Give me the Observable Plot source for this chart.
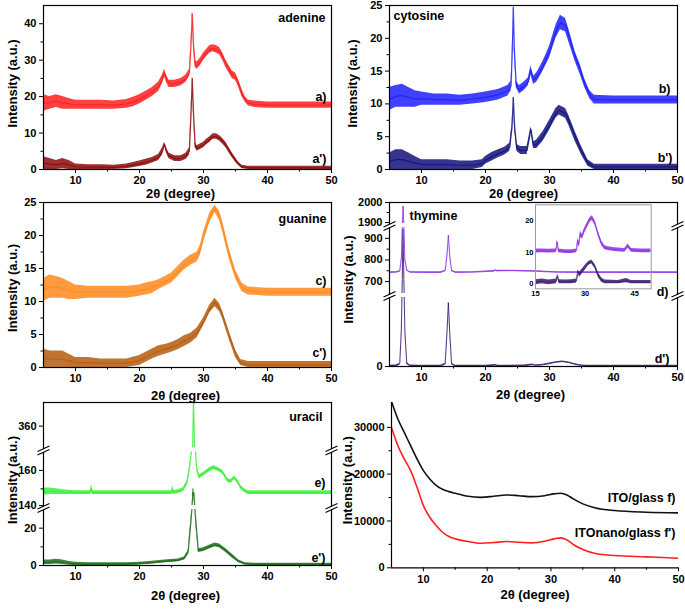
<!DOCTYPE html>
<html><head><meta charset="utf-8">
<script src="https://cdn.jsdelivr.net/npm/d3@7"></script>
<script src="https://cdn.jsdelivr.net/npm/@observablehq/plot@0.6"></script>
<style>
body{margin:0;background:#fff;}
#chart{position:relative;width:685px;height:610px;overflow:hidden;background:#fff;}
#chart svg{position:absolute;background:transparent;}
</style></head><body><div id="chart"></div><script>
// ---------- shared axis values ----------
const X_DOMAIN = [5, 50];
const THETA_TICKS = [10, 20, 30, 40, 50];
const THETA_MINOR = [15, 25, 35, 45];
const X_TITLE = "2θ (degree)";
const Y_TITLE = "Intensity (a.u.)";

// ---------- series: [2θ, lower edge of noise band, upper edge] ----------
const adenineA = [[5,16,20.5],[6,16.5,20],[7,17,20.5],[8,16.5,20],[9,16.5,19.5],[10,16.5,19],[12,16.5,19],[14,16.5,19],[16,16.5,18.8],[18,16.8,19.2],[19,17.2,19.8],[20,18,20.5],[21,19,21.5],[22,20,22.5],[23,21.5,24],[23.6,23.5,26],[23.9,25.5,27.5],[24.2,24,26],[24.6,22.5,24.5],[25.5,22.5,24.5],[26.5,23,25],[27.3,24,26],[27.8,25.5,27.5],[28.05,33,35],[28.25,42,43.5],[28.45,33,35],[28.7,28,30],[29,27.5,29.5],[29.5,28.5,30.5],[30,30,32],[30.5,31,33],[31,32,34],[31.5,32.3,34.2],[32,32,34],[32.5,31.5,33.5],[33,30,32],[33.5,28,30],[34,26.5,28.5],[34.5,25,27],[35,24.5,26.5],[35.4,23,25],[36,20,22],[36.5,18.5,20],[37,17.5,19],[38,17,18.8],[40,16.8,18.5],[45,16.8,18.5],[50,16.8,18.5]];
const adenineB = [[5,0,3.5],[6,0,3],[7,0,2.5],[8,0.2,3],[9,0,2.5],[10,0,1.5],[12,0,1.3],[14,0,1.3],[16,0,1.2],[18,0.2,1.5],[20,0.8,2.3],[21,1.2,2.8],[22,1.8,3.3],[23,2.5,4.2],[23.6,4,6],[23.9,6.5,7.5],[24.2,4.5,6],[24.6,3,4.5],[25.5,2.2,3.8],[26.5,2.2,3.8],[27.3,2.8,4.5],[27.8,4,6],[28.05,14,16],[28.25,24.5,25.5],[28.45,14,16],[28.7,6,7.5],[29,5,6.5],[29.5,5.5,7],[30,6,7.5],[30.5,6.8,8.3],[31,7.5,9],[31.5,8.3,9.8],[32,8.3,9.8],[32.5,7.8,9.3],[33,7,8.5],[33.5,6,7.5],[34,4.5,6],[34.5,3.2,4.5],[35,2,3.2],[35.5,1,2],[36,0.3,1.2],[37,0,0.9],[40,0,0.9],[45,0,0.9],[50,0,0.9]];

const cytosineA = [[5,9,12.5],[6,9.5,12.8],[7,9.5,13],[8,9.5,12.5],[9,9.5,12],[10,9.8,11.8],[12,9.8,11.5],[14,9.8,11.5],[16,9.8,11.3],[18,10,11.5],[20,10.2,11.8],[22,10.6,12.2],[23.5,11.2,12.8],[24,12,13.5],[24.2,18,19],[24.35,24.5,25],[24.5,18,19],[24.8,12.5,13.5],[25.3,11.5,12.8],[26,12,13.3],[26.7,12.8,14],[27.1,14.5,15.8],[27.5,13,14.2],[28,13.3,14.7],[29,15,16.5],[30,17,18.8],[31,20,22],[31.7,21.3,23.5],[32.5,21,23],[33,19.5,21.5],[34,16.5,18],[34.8,14.5,16],[35.5,12.5,13.8],[36.3,10.8,12],[37,10,11.3],[40,10,11.2],[45,10,11.2],[50,10,11.2]];
const cytosineB = [[5,0,2.5],[6,0,3],[7,0,3],[8,0,2.5],[9,0,2],[10,0,1.5],[12,0,1.5],[14,0,1.5],[16,0,1.3],[18,0,1.3],[19.5,0.3,1.5],[20,0.8,2],[21,1.3,2.6],[22,1.8,3],[23,2.2,3.4],[23.8,2.8,4],[24.15,6,7],[24.35,10.8,11.2],[24.55,6,7],[24.9,2.8,3.8],[25.5,2.3,3.5],[26.5,2.3,3.5],[27.1,5.8,6.5],[27.5,3.2,4.2],[28,3.2,4.5],[29,4.3,5.8],[30,6,7.5],[31,7.8,9.3],[31.5,8.3,9.8],[32.5,7.8,9.3],[33,6.8,8.3],[34,4.3,5.8],[35,2.2,3.5],[36,0.5,1.5],[37,0,0.8],[40,0,0.8],[45,0,0.8],[50,0,0.8]];

const guanineA = [[5,10,13.5],[6,10.5,14],[7,10.5,13.8],[8,10.5,13.5],[9,10.3,13],[10,10.3,12.5],[12,10.5,12.3],[14,10.5,12.3],[16,10.5,12.3],[18,10.5,12.3],[20,10.8,12.5],[21,11,12.8],[22,11.2,13],[23,11.8,13.3],[24,12.3,13.8],[25,12.8,14.3],[26,13.8,15.3],[27,14.8,16.3],[28,15.5,17],[29,16,17.5],[29.5,17,18.5],[30,19,20.5],[31,22,23.5],[31.8,23.5,24.6],[32.5,22.3,23.7],[33,20.5,22],[34,16.5,18],[35,13.5,14.8],[36,11.5,12.8],[37,11,12.2],[40,10.8,12],[45,10.8,12],[50,10.8,12]];
const guanineB = [[5,0,2.8],[6,0,2.5],[7,0,2.5],[8,0,2.5],[9,0,2],[10,0,1.5],[12,0,1.5],[14,0,1.3],[16,0,1.3],[18,0,1.3],[20,0.3,1.8],[21,0.8,2.3],[22,1.3,2.8],[23,1.7,3.3],[24,2,3.5],[25,2.3,3.8],[26,2.7,4.2],[27,3.2,4.8],[28,3.7,5.2],[29,4.5,6],[30,6.3,7.5],[31,8.3,9.5],[31.8,9.2,10.5],[32.5,8.5,9.7],[33,7.3,8.5],[34,4.3,5.5],[35,1.5,2.7],[35.8,0.3,1.2],[37,0,0.9],[40,0,0.9],[45,0,0.9],[50,0,0.9]];

const thymineA = [[5,740,745],[6,741,746],[6.6,745,750],[6.85,800,810],[7.0,1300,1320],[7.12,1980,1985],[7.25,1300,1320],[7.4,800,810],[7.7,750,755],[8.2,741,746],[10,740,745],[13,740,745],[13.7,748,752],[14.0,820,830],[14.2,912,918],[14.4,820,830],[14.7,748,752],[15.3,740,745],[18,741,746],[20,744,749],[21.3,746,751],[21.5,749,755],[21.7,747,752],[24,748,753],[28,745,750],[31,741,746],[35,740,745],[40,740,745],[50,740,745]];
const thymineB = [[5,0,5],[6,0,6],[6.6,8,14],[6.85,150,160],[7.0,700,720],[7.1,940,945],[7.25,700,720],[7.4,150,160],[7.7,10,18],[8.2,0,6],[10,0,5],[13,0,5],[13.7,8,14],[14.0,150,160],[14.2,275,280],[14.4,150,160],[14.7,8,14],[15.3,0,5],[20,0,5],[21.5,3,9],[22,0,5],[26,1,6],[27.4,5,11],[27.8,2,7],[29,5,10],[30,10,15],[31,16,21],[32,19,24],[33,15,20],[34,7,12],[35,2,7],[36,0,5],[50,0,5]];
const thymineInsetA = [[15,9.7,11],[17,9.8,11],[19,9.7,10.9],[21.2,9.8,11],[21.6,12.5,14],[22,9.8,11],[24,9.6,10.8],[26,9.6,10.8],[27.4,9.8,11],[27.8,13,14.5],[28.1,11.5,13],[28.6,15,16.8],[29.1,14,15.5],[29.6,15.5,17],[30.5,17.5,19],[31.5,19.5,21],[32.2,20,21.5],[33,18.5,20],[34,15,16.5],[35,12,13.5],[36,10.8,12],[37,10.5,11.7],[39,10.2,11.4],[42,10,11.2],[43,11.3,12.6],[44,10,11.2],[47,9.8,11],[50,9.8,11]];
const thymineInsetB = [[15,-0.3,1.3],[17,0,1.5],[19,-0.3,1.2],[21.3,0,1.5],[21.7,2,3],[22.1,0,1.3],[24,0,1.2],[26,0,1.3],[27.4,0.2,1.5],[27.9,3.5,4.5],[28.3,2,3.5],[29,3,4.5],[30,4.3,5.8],[31,5.8,7],[32,6.3,7.5],[33,4.8,6.2],[34,2,3.5],[35,0.5,1.8],[36,0,1.2],[40,0,1],[42.5,0.3,1.7],[44,0,1],[50,0,1]];

const uracilA = [[5,146.5,150.5],[6,147,150.5],[7,147,150],[8,147,149.5],[10,147,149],[12.3,147,149],[12.5,148,152.5],[12.7,147,149],[15,147,149],[20,147,149],[25,147,149],[25.2,147.5,151.5],[25.4,147,149],[26,147.5,149.5],[26.8,148.5,150.5],[27.4,152,154],[27.8,160,162],[28.1,185,190],[28.3,340,345],[28.45,372,376],[28.6,340,345],[28.75,185,190],[28.95,160,162],[29.3,155.5,157.5],[30,157,159],[31,159.5,161.5],[31.6,160.5,162.5],[32.3,159.5,161.5],[33,158,160],[33.8,153.5,155.5],[34.3,153,155],[34.8,155,157],[35.3,153,155],[35.8,150,152],[36.4,148,150],[37,147,149],[40,147,149],[45,147,149],[50,147,149]];
const uracilB = [[5,0.5,3],[6,0.5,3],[7,0.8,3.3],[8,0.5,3],[9,0.2,2.2],[10,0,1.8],[12,0,1.5],[15,0,1.5],[18,0,1.5],[20,0.3,1.8],[22,0.8,2.3],[24,1.5,3],[26,2,3.5],[27,3,4.5],[27.6,6,8],[28,20,24],[28.2,60,65],[28.35,146,150],[28.5,146,150],[28.65,60,65],[28.85,20,24],[29.2,7,9],[30,7.5,9.5],[31,9,11],[31.8,10,12],[32.5,9.5,11.5],[33.5,7,9],[34.5,4,6],[35.5,1.5,3],[36.5,0.3,1.5],[38,0,1.2],[45,0,1.2],[50,0,1.2]];

// ITO substrates: [2θ, intensity]
const itoGlass = [[5,35500],[6,31770],[7,28900],[8,26080],[9,23240],[10,20750],[11,18980],[12,17620],[13,16760],[14,16270],[15,15910],[17,15270],[19,15050],[21,15270],[23,15560],[25,15400],[27,15200],[29,15400],[30.5,15780],[31.5,15910],[32.5,15560],[33.5,14710],[35,13650],[37,12790],[40,12220],[45,11860],[50,11730]];
const itoNanoGlass = [[5,29980],[6,26080],[7,23240],[8,20750],[9,17190],[10,13280],[11,10790],[12,9020],[13,7590],[14,6670],[15,6180],[17,5610],[19,5250],[21,5390],[23,5610],[25,5460],[27,5320],[29,5680],[30.5,6180],[31.5,6400],[32.5,5960],[33.5,4970],[35,3900],[37,3050],[40,2620],[45,2340],[50,2050]];

// ---------- broken y axes ----------
const thymineTicks = [0, 700, 800, 900, 1900, 2000];
const thymineSegments = [0, 300, 645, 950, 1895, 2000];   // shown pieces: 0–300, 645–950, 1895–2000
const thymineGaps = [[300, 645], [950, 1895]];
const uracilTicks = [0, 20, 140, 160, 360];
const uracilSegments = [0, 30, 141, 170, 348, 373];
const uracilGaps = [[30, 141], [170, 348]];

// ---------- helpers ----------
const FONT = "'Liberation Sans', Arial, Helvetica, sans-serif";
const chart = document.getElementById("chart");
const breakGap = {draw(c) { c.moveTo(-6, 1.5); c.lineTo(6, -4); c.lineTo(6, -0.5); c.lineTo(-6, 5); c.closePath(); }};
const breakLines = {draw(c) { c.moveTo(-6, 1.5); c.lineTo(6, -4); c.moveTo(-6, 5); c.lineTo(6, -0.5); }};
const ident = d3.scaleIdentity();

function bandMarks(data, color, brk, opts = {}) {
  const op = opts.opacity ?? 0.85;
  return [
    Plot.areaY(data, {x: d => d[0], y1: d => brk(d[1]), y2: d => brk(d[2]), fill: color, fillOpacity: op, clip: true}),
    Plot.line(data, {x: d => d[0], y: d => brk((d[1] + d[2]) / 2), stroke: color, strokeOpacity: op, strokeWidth: opts.sw ?? 1.2, strokeLinejoin: "round", clip: true})
  ];
}

function makePanel(p) {
  const [left, top, width, height] = p.box;
  const [mT, mR, mB, mL] = p.margins;
  const brk = p.brk || ident;
  const yFmt = v => String(Math.round(brk.invert(v)));
  const marks = [];
  for (const s of p.series) {
    if (s.line) marks.push(Plot.line(s.data, {x: d => d[0], y: d => d[1], stroke: s.color, strokeWidth: 1.6, curve: "monotone-x", clip: true}));
    else marks.push(...bandMarks(s.data, s.color, brk, s));
  }
  const gaps = p.gaps || [];
  if (gaps.length) marks.push(Plot.rect(gaps, {x1: () => X_DOMAIN[0], x2: () => X_DOMAIN[1], y1: d => brk(d[0]), y2: d => brk(d[1]), fill: "white"}));
  if (p.openFrame) {
    marks.push(Plot.ruleX([X_DOMAIN[0]], {stroke: "black", strokeWidth: 1.2}));
    marks.push(Plot.ruleY([p.yDomain[0]], {stroke: "black", strokeWidth: 1.2}));
  } else {
    marks.push(Plot.frame({stroke: "black", strokeWidth: 1.2}));
  }
  marks.push(
    Plot.axisX({ticks: THETA_TICKS, tickSize: 4, tickPadding: 3, tickFormat: d => String(d), label: null}),
    Plot.axisX({ticks: THETA_MINOR, tickSize: 2.5, tickFormat: () => "", label: null}),
    Plot.axisY({ticks: p.yTicks.map(brk), tickSize: 4, tickPadding: 3, tickFormat: yFmt, label: null})
  );
  if (p.yMinor && p.yMinor.length) marks.push(Plot.axisY({ticks: p.yMinor.map(brk), tickSize: 2.5, tickFormat: () => "", label: null}));
  if (gaps.length) {
    const br = gaps.flatMap(g => X_DOMAIN.map(x => ({x, y: brk((g[0] + g[1]) / 2)})));
    marks.push(Plot.dot(br, {x: "x", y: "y", symbol: breakGap, r: 5, fill: "white", stroke: "none"}));
    marks.push(Plot.dot(br, {x: "x", y: "y", symbol: breakLines, r: 5, fill: "none", stroke: "black", strokeWidth: 1.1}));
  }
  marks.push(Plot.text([X_TITLE], {text: d => d, frameAnchor: "bottom", dx: p.xl[0], dy: p.xl[1], lineAnchor: "middle", textAnchor: "middle", fontSize: 13, fill: "black"}));
  marks.push(Plot.text([Y_TITLE], {text: d => d, frameAnchor: "left", rotate: -90, dx: p.yl[0], dy: p.yl[1], lineAnchor: "middle", textAnchor: "middle", fontSize: 13, fill: "black"}));
  for (const t of p.labels) {
    const right = t[1].endsWith("right");
    marks.push(Plot.text([t[0]], {text: d => d, frameAnchor: t[1], dx: t[2], dy: t[3], textAnchor: right ? "end" : "start", lineAnchor: "middle", fontSize: 12.5, fill: "black"}));
  }
  const svg = Plot.plot({
    width, height, marginTop: mT, marginRight: mR, marginBottom: mB, marginLeft: mL,
    style: {fontFamily: FONT, fontSize: "11px", fontWeight: "bold", color: "black", background: "transparent", overflow: "visible"},
    x: {domain: X_DOMAIN, axis: null},
    y: {domain: p.yDomain, axis: null},
    marks
  });
  svg.style.left = left + "px";
  svg.style.top = top + "px";
  chart.appendChild(svg);
}

// piecewise maps from intensity to display height (px above the frame bottom)
const thymineBrk = d3.scaleLinear().domain(thymineSegments).range([0, 69, 73, 139, 143, 164]);
const uracilBrk = d3.scaleLinear().domain(uracilSegments).range([0, 56, 60, 113.6, 117.6, 163]);

// ---------- panels ----------
makePanel({
  box: [0, 0, 342, 200], margins: [5, 11, 31, 43],
  yDomain: [0, 45], yTicks: [0, 10, 20, 30, 40], yMinor: [5, 15, 25, 35],
  series: [{data: adenineA, color: "#ff1f1f"}, {data: adenineB, color: "#8b0c0c"}],
  xl: [-7, 24], yl: [-31, -4],
  labels: [["adenine", "top-right", -6, 12], ["a)", "top-right", -5, 91], ["a')", "top-right", -5, 153]]
});
makePanel({
  box: [342, 0, 343, 200], margins: [5, 8, 31, 47],
  yDomain: [0, 25], yTicks: [0, 5, 10, 15, 20, 25], yMinor: [2.5, 7.5, 12.5, 17.5, 22.5],
  series: [{data: cytosineA, color: "#1f1fff"}, {data: cytosineB, color: "#12127a"}],
  xl: [-10, 24], yl: [-37, -4],
  labels: [["cytosine", "top-left", 4, 10], ["b)", "top-right", -7, 83], ["b')", "top-right", -5, 152]]
});
makePanel({
  box: [0, 198, 342, 200], margins: [4, 11, 31, 43],
  yDomain: [0, 25], yTicks: [0, 5, 10, 15, 20, 25], yMinor: [2.5, 7.5, 12.5, 17.5, 22.5],
  series: [{data: guanineA, color: "#ff8a1c"}, {data: guanineB, color: "#b65c0e"}],
  xl: [-2, 28], yl: [-31, 3],
  labels: [["guanine", "top-right", -5, 16], ["c)", "top-right", -5, 78], ["c')", "top-right", -5, 150]]
});
makePanel({
  box: [342, 198, 343, 200], margins: [4, 8, 32, 47],
  brk: thymineBrk, yDomain: [0, 164],
  yTicks: thymineTicks, yMinor: [750, 850, 1950], gaps: thymineGaps,
  series: [{data: thymineB, color: "#3b1670", sw: 1}, {data: thymineA, color: "#8b2fe6", sw: 1}],
  xl: [-3, 28], yl: [-41, -5],
  labels: [["thymine", "top-left", 20, 13], ["d)", "top-right", -9, 89], ["d')", "top-right", -8, 156]]
});
makePanel({
  box: [0, 398, 342, 212], margins: [4, 11, 45, 43],
  brk: uracilBrk, yDomain: [0, 163],
  yTicks: uracilTicks, yMinor: [10, 150], gaps: uracilGaps,
  series: [{data: uracilB, color: "#1d6b1d"}, {data: uracilA, color: "#3cf03c"}],
  xl: [-2, 30], yl: [-31, -4],
  labels: [["uracil", "top-right", -9, 14], ["e)", "top-right", -6, 80], ["e')", "top-right", -6, 155]]
});
makePanel({
  box: [342, 398, 343, 212], margins: [4, 7, 42.7, 49], openFrame: true,
  yDomain: [0, 35300], yTicks: [0, 10000, 20000, 30000], yMinor: [5000, 15000, 25000],
  series: [{data: itoGlass, color: "#111", line: true}, {data: itoNanoGlass, color: "#ff1f1f", line: true}],
  xl: [0, 27], yl: [-44, -5],
  labels: [["ITO/glass f)", "top-right", -3, 95], ["ITOnano/glass f')", "top-right", -3, 130]]
});

// ---------- thymine inset ----------
{
  const inset = Plot.plot({
    width: 140, height: 105, marginTop: 6.3, marginRight: 4.3, marginBottom: 14.7, marginLeft: 20,
    style: {fontFamily: FONT, fontSize: "7.5px", fontWeight: "bold", color: "black", background: "transparent", overflow: "visible"},
    x: {domain: [15, 50], axis: null},
    y: {domain: [-1.6, 25], axis: null},
    marks: [
      ...bandMarks(thymineInsetB, "#3b1670", ident, {sw: 0.9}),
      ...bandMarks(thymineInsetA, "#8b2fe6", ident, {sw: 0.9}),
      Plot.frame({stroke: "#9a9a9a", strokeWidth: 1}),
      Plot.axisX({ticks: [15, 30, 45], tickSize: 0, tickPadding: 2, tickFormat: d => String(d), label: null}),
      Plot.axisY({ticks: [0, 10, 20], tickSize: 0, tickPadding: 2, tickFormat: d => String(d), label: null})
    ]
  });
  inset.style.left = "515px";
  inset.style.top = "198px";
  chart.appendChild(inset);
}
</script></body></html>
